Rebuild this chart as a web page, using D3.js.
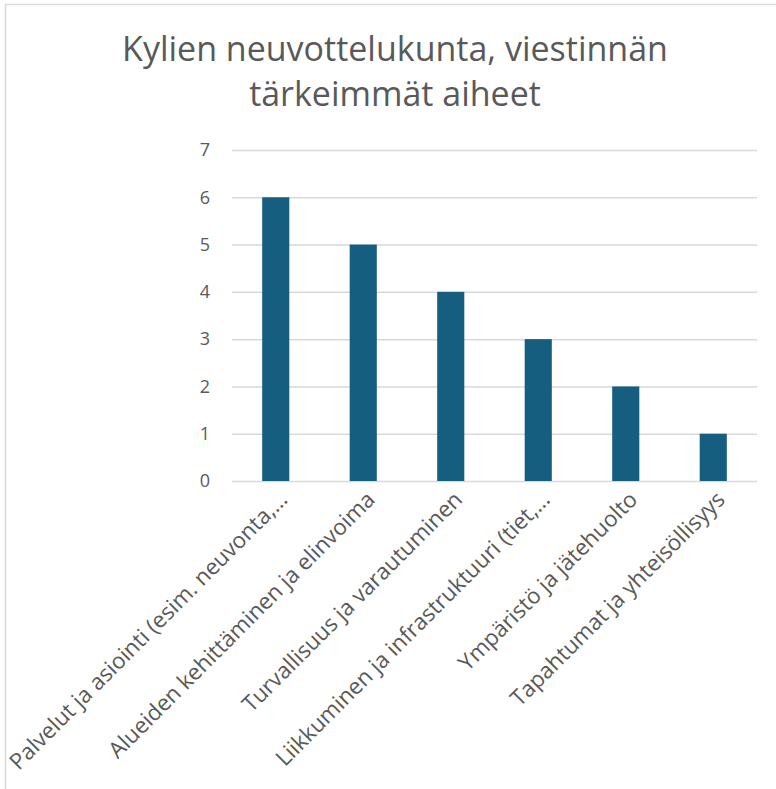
<!DOCTYPE html>
<html><head><meta charset="utf-8">
<script src="https://cdn.jsdelivr.net/npm/d3@7"></script>
<style>body{margin:0;background:#fff}svg{display:block}</style>
</head><body>
<script>
const categories = [
  "Palvelut ja asiointi (esim. neuvonta,…",
  "Alueiden kehittäminen ja elinvoima",
  "Turvallisuus ja varautuminen",
  "Liikkuminen ja infrastruktuuri (tiet,…",
  "Ympäristö ja jätehuolto",
  "Tapahtumat ja yhteisöllisyys"
];
const values = [6, 5, 4, 3, 2, 1];
const yTicks = [0, 1, 2, 3, 4, 5, 6, 7];
const titleLines = ["Kylien neuvottelukunta, viestinnän", "tärkeimmät aiheet"];

const W = 776, H = 789;
const FONT = "'Open Sans', 'Liberation Sans', Arial, sans-serif";
const svg = d3.select("body").append("svg").attr("width", W).attr("height", H);

svg.append("rect").attr("x", 5.5).attr("y", 4.5).attr("width", W + 10).attr("height", H + 10)
  .attr("fill", "#fff").attr("stroke", "#d9d9d9").attr("stroke-width", 1.5);

const m = {left: 232, right: 757, top: 150, bottom: 481};
const x = d3.scaleBand().domain(categories).range([m.left, m.right]).paddingInner(0.69).paddingOuter(0.345);
const y = d3.scaleLinear().domain([0, 7]).range([m.bottom, m.top]);

// title
const title = svg.append("g").selectAll("text").data(titleLines).join("text")
  .attr("x", 395).attr("y", (d, i) => 61 + i * 45)
  .attr("text-anchor", "middle")
  .attr("font-family", FONT)
  .attr("font-size", 28).attr("fill", "#595959").text(d => d);
{
  const w = title.nodes()[0].getComputedTextLength();
  title.attr("font-size", 28 * 546 / w);
}

// gridlines + y axis
const yAxis = d3.axisLeft(y).tickValues(yTicks).tickSize(-(m.right - m.left)).tickPadding(22).tickFormat(d3.format("d"));
const gy = svg.append("g").attr("transform", `translate(${m.left},0)`).call(yAxis);
gy.select(".domain").remove();
gy.selectAll(".tick line").attr("stroke", "#d9d9d9").attr("stroke-width", 1.5);
gy.selectAll(".tick text").attr("fill", "#595959").attr("font-size", 18)
  .attr("font-family", FONT);

// bars
svg.append("g").selectAll("rect").data(values).join("rect")
  .attr("x", (d, i) => x(categories[i]))
  .attr("y", d => y(d))
  .attr("width", x.bandwidth())
  .attr("height", d => y(0) - y(d))
  .attr("fill", "#165e80");

// x labels
const xAxis = d3.axisBottom(x).tickSize(0).tickPadding(0);
const gx = svg.append("g").attr("transform", `translate(0,${m.bottom})`).call(xAxis);
gx.select(".domain").remove();
const lbl = gx.selectAll(".tick text")
  .attr("text-anchor", "end")
  .attr("dy", 0)
  .attr("transform", "translate(13,20) rotate(-45)")
  .attr("fill", "#595959").attr("font-size", 17)
  .attr("font-family", FONT);
{
  const w = lbl.nodes()[0].getComputedTextLength();
  lbl.attr("font-size", 17 * 382 / w);
}
</script>
</body></html>
